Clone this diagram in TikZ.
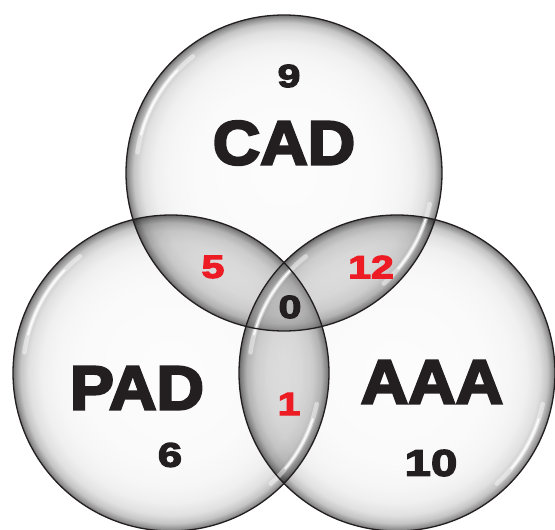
\documentclass[tikz,border=0pt]{standalone}
\usepackage{fontspec}
\setmainfont{Liberation Sans}
\newfontfamily\heavyfont{Liberation Sans Bold}[FakeBold=4, FakeStretch=1.06]
\newfontfamily\digitfont{Liberation Sans Bold}[FakeBold=4, FakeStretch=1.28]
\definecolor{vred}{RGB}{237,28,36}
\definecolor{ink}{RGB}{35,31,32}
\pgfdeclareradialshading{glass}{\pgfpoint{0bp}{0bp}}{color(0bp)=(black!1); color(14bp)=(black!2); color(18bp)=(black!3.5); color(20.5bp)=(black!6); color(22.5bp)=(black!12); color(23.8bp)=(black!23); color(24.6bp)=(black!42); color(25bp)=(black!55); color(50bp)=(black!55)}
\begin{document}
\begin{tikzpicture}[x=1pt,y=-1pt,
  bubble/.style={shading=glass},
  lens/.style={fill=black!7},
  rim/.style={draw=ink, line width=1.3pt},
  shinewide/.style={white, line cap=round, opacity=0.45, line width=4.5pt},
  shinethin/.style={white, line cap=round, opacity=0.85, line width=2pt},
  big/.style={font=\fontsize{62}{62}\heavyfont, text=ink, inner sep=0pt},
  num/.style={font=\fontsize{32}{32}\digitfont, text=ink, inner sep=0pt},
  rnum/.style={num, text=vred}]
\useasboundingbox (0,0) rectangle (555,530);
\def\R{158}
\coordinate (cC) at (284,173);
\coordinate (cP) at (171,373);
\coordinate (cA) at (397,373);
\begin{scope}[blend group=multiply]
  \shade[bubble] (cC) circle[radius=\R];
  \shade[bubble] (cP) circle[radius=\R];
  \shade[bubble] (cA) circle[radius=\R];
  \begin{scope}
    \clip (cC) circle[radius=\R];
    \fill[lens] (cP) circle[radius=\R];
    \fill[lens] (cA) circle[radius=\R];
  \end{scope}
  \begin{scope}
    \clip (cP) circle[radius=\R];
    \fill[lens] (cA) circle[radius=\R];
  \end{scope}
\end{scope}
\begin{scope}
  \clip (cC) circle[radius=\R];
  \clip (cP) circle[radius=\R];
  \fill[white, opacity=0.28] (cA) circle[radius=\R];
\end{scope}
\foreach \c in {cC,cP,cA}{
  \draw[shinewide] (\c) ++(-128:148) arc[start angle=-128, end angle=-172, radius=148];
  \draw[shinethin] (\c) ++(-136:148) arc[start angle=-136, end angle=-165, radius=148];
  \draw[shinewide] (\c) ++(12:149) arc[start angle=12, end angle=48, radius=149];
  \draw[shinethin] (\c) ++(18:149) arc[start angle=18, end angle=40, radius=149];
}
\draw[rim] (cC) circle[radius=\R];
\draw[rim] (cP) circle[radius=\R];
\draw[rim] (cA) circle[radius=\R];
\node[big] (cad) at (284,143) {CAD};
\node[big] (pad) at (137,388) {PAD};
\node[big] (aaa) at (432,382) {AAA};
\node[num] (n9) at (289,76) {9};
\node[rnum] (n5) at (213,267) {5};
\node[rnum] (n12) at (371,267) {12};
\node[num] (n0) at (290,307) {0};
\node[rnum] (n1) at (289,404) {1};
\node[num, font=\fontsize{34}{34}\digitfont] (n6) at (170,455) {6};
\node[num, font=\fontsize{37}{37}\digitfont] (n10) at (431,463) {10};
\end{tikzpicture}
\end{document}
